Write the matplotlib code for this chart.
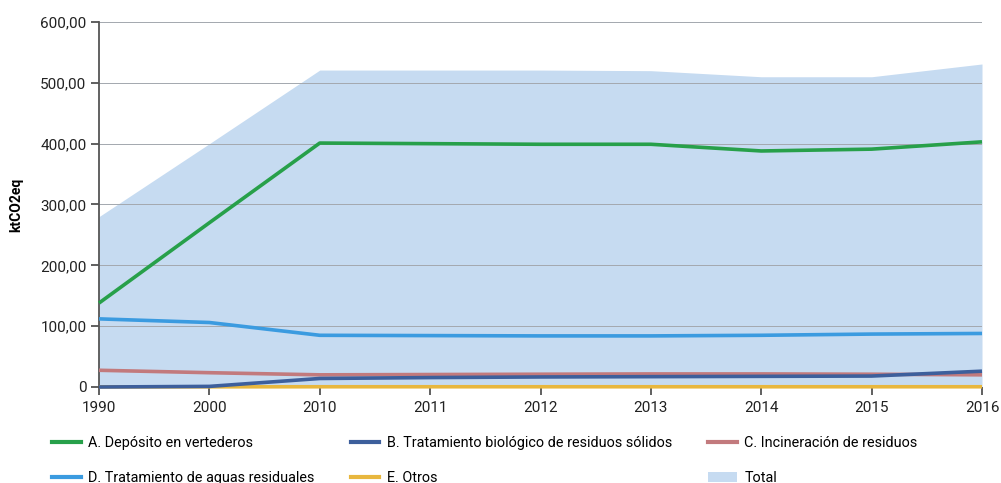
import matplotlib
matplotlib.use("Agg")
import matplotlib.pyplot as plt
from matplotlib.patches import Patch
from matplotlib.lines import Line2D

# Emisiones del sector residuos (ktCO2eq)
years = ["1990", "2000", "2010", "2011", "2012", "2013", "2014", "2015", "2016"]
total = [280, 400, 521, 521, 521, 520, 510, 510, 531]
vertederos = [138, 270, 401, 400, 399, 399, 388, 391, 403]
biologico = [0, 1, 14, 15.5, 16.5, 17, 17.5, 18, 26]
incineracion = [27.5, 23.5, 20, 20.5, 21, 21.5, 21.5, 21, 20]
aguas = [112, 106, 85, 84.5, 84, 84, 85, 87, 88]
otros = [0.3, 0.3, 0.4, 0.4, 0.4, 0.4, 0.4, 0.4, 0.4]

y_ticks = [0, 100, 200, 300, 400, 500, 600]
y_labels = ["0", "100,00", "200,00", "300,00", "400,00", "500,00", "600,00"]

plt.rcParams["font.family"] = ["Roboto", "DejaVu Sans"]

fig = plt.figure(figsize=(10.01, 4.83), dpi=100)
ax = fig.add_axes([99 / 1001, 1 - 387 / 483, (982 - 99) / 1001, (387 - 22) / 483])

x = list(range(len(years)))

ax.fill_between(x, 0, total, color="#c6dbf1", linewidth=0, zorder=1)

for yt in y_ticks[1:]:
    ax.axhline(yt, color="#a3a8ae", linewidth=0.7, zorder=2)

lw = 2.6
ax.plot(x, vertederos, color="#27a04a", lw=lw, zorder=5, clip_on=False, solid_capstyle="butt")
ax.plot(x, aguas, color="#3b9be0", lw=lw, zorder=4, clip_on=False, solid_capstyle="butt")
ax.plot(x, incineracion, color="#c27a7d", lw=lw, zorder=4, clip_on=False, solid_capstyle="butt")
ax.plot(x, otros, color="#e8b73e", lw=lw, zorder=3, clip_on=False, solid_capstyle="butt")
ax.plot(x, biologico, color="#3d5f9c", lw=lw, zorder=6, clip_on=False, solid_capstyle="butt")

ax.set_xlim(0, len(years) - 1)
ax.set_ylim(0, 600)
ax.set_xticks(x)
ax.set_xticklabels(years)
ax.set_yticks(y_ticks)
ax.set_yticklabels(y_labels)

for side in ["top", "right", "bottom"]:
    ax.spines[side].set_visible(False)
ax.spines["left"].set_color("#555555")
ax.spines["left"].set_linewidth(1.3)
ax.tick_params(axis="both", labelsize=11, colors="#222222", length=6, width=1.2)
ax.tick_params(axis="x", colors="#444444", labelcolor="#222222", pad=4)
ax.tick_params(axis="y", colors="#444444", labelcolor="#222222", pad=3)

ax.set_ylabel("ktCO2eq", fontsize=10, fontweight="bold", labelpad=12)

handles = [
    Line2D([], [], color="#27a04a", lw=3),
    Line2D([], [], color="#3b9be0", lw=3),
    Line2D([], [], color="#3d5f9c", lw=3),
    Line2D([], [], color="#e8b73e", lw=3),
    Line2D([], [], color="#c27a7d", lw=3),
    Patch(facecolor="#c6dbf1", edgecolor="none"),
]
labels = [
    "A. Depósito en vertederos",
    "D. Tratamiento de aguas residuales",
    "B. Tratamiento biológico de residuos sólidos",
    "E. Otros",
    "C. Incineración de residuos",
    "Total",
]
fig.legend(handles, labels, ncol=3, loc="upper left",
           bbox_to_anchor=(39 / 1001, 1 - 423 / 483), frameon=False,
           fontsize=10.4, handlelength=2.0, handletextpad=0.5,
           columnspacing=2.5, labelspacing=1.45)

fig.savefig("out.png", dpi=100)
